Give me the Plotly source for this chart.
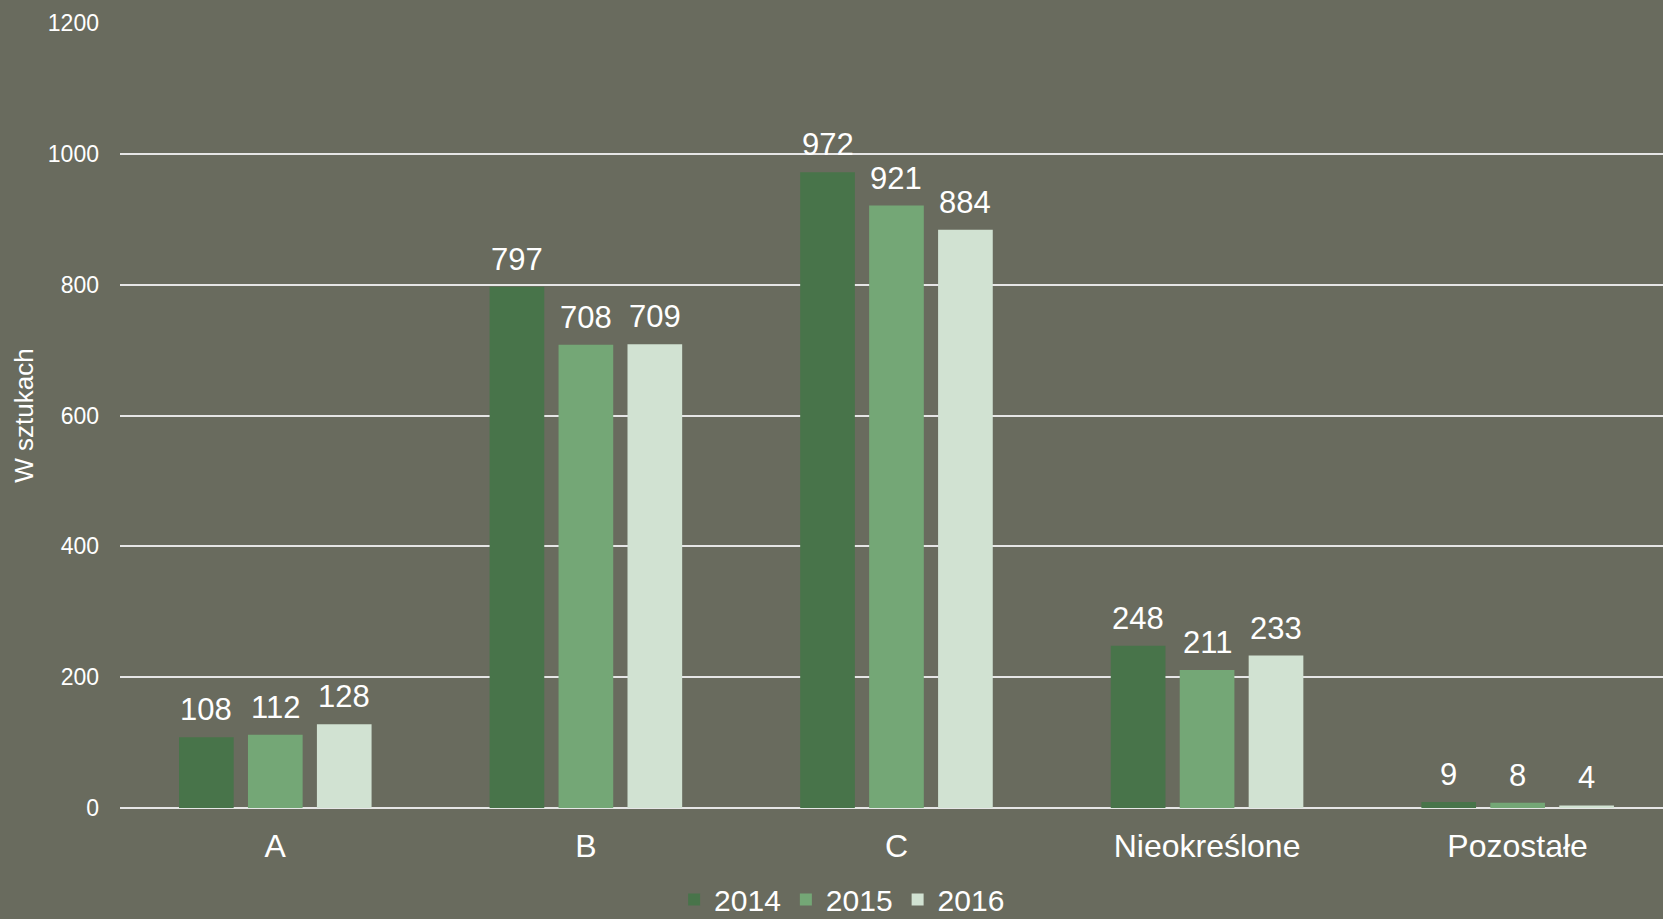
import plotly.graph_objects as go

categories = ["A", "B", "C", "Nieokreślone", "Pozostałe"]
years = ["2014", "2015", "2016"]
values_2014 = [108, 797, 972, 248, 9]
values_2015 = [112, 708, 921, 211, 8]
values_2016 = [128, 709, 884, 233, 4]
colors = ["#48744A", "#74A776", "#D1E2D2"]
y_ticks = [0, 200, 400, 600, 800, 1000, 1200]

series = [values_2014, values_2015, values_2016]
FONT = "Liberation Sans, Arial, sans-serif"
BARGAP = 0.334
GROUPGAP = 0.207

fig = go.Figure()
for name, vals, col in zip(years, series, colors):
    fig.add_trace(go.Bar(
        x=categories, y=vals, name=name,
        marker=dict(color=col, line=dict(width=0)),
    ))

# value labels above bars (positioned from the data and the group layout)
slot = (1 - BARGAP) / len(series)
for k, vals in enumerate(series):
    off = (k - (len(series) - 1) / 2) * slot
    for i, v in enumerate(vals):
        fig.add_annotation(x=i + off, y=v, xref="x", yref="y", text=str(v),
                           showarrow=False, yanchor="bottom", yshift=8,
                           font=dict(size=31, color="white", family=FONT))

fig.update_layout(
    width=1663, height=919,
    paper_bgcolor="#696B5E", plot_bgcolor="#696B5E",
    barmode="group", bargap=BARGAP, bargroupgap=GROUPGAP,
    margin=dict(l=120, r=0, t=23, b=111, autoexpand=False),
    font=dict(family=FONT, color="white"),
    showlegend=True,
    legend=dict(orientation="h", x=0.468, xanchor="center", y=-0.0835, yanchor="top",
                font=dict(size=30, color="white"), bgcolor="rgba(0,0,0,0)",
                itemwidth=30, tracegroupgap=0),
)
fig.update_xaxes(range=[-0.5, 4.468], showgrid=False, showline=False, ticks="",
                 tickfont=dict(size=32, color="white"), ticklabelstandoff=16)
fig.update_yaxes(range=[0, 1200], tickvals=y_ticks, showgrid=True, gridcolor="#E6E6E6",
                 gridwidth=1.5, zeroline=True, zerolinecolor="#E6E6E6", zerolinewidth=1.5,
                 tickfont=dict(size=23, color="white"), ticklabelstandoff=20,
                 title=dict(text="W sztukach", font=dict(size=26, color="white"), standoff=6))

fig.write_html("out.html", config={"displayModeBar": False},
               post_script="document.body.style.margin='0';document.body.style.overflow='hidden';")
